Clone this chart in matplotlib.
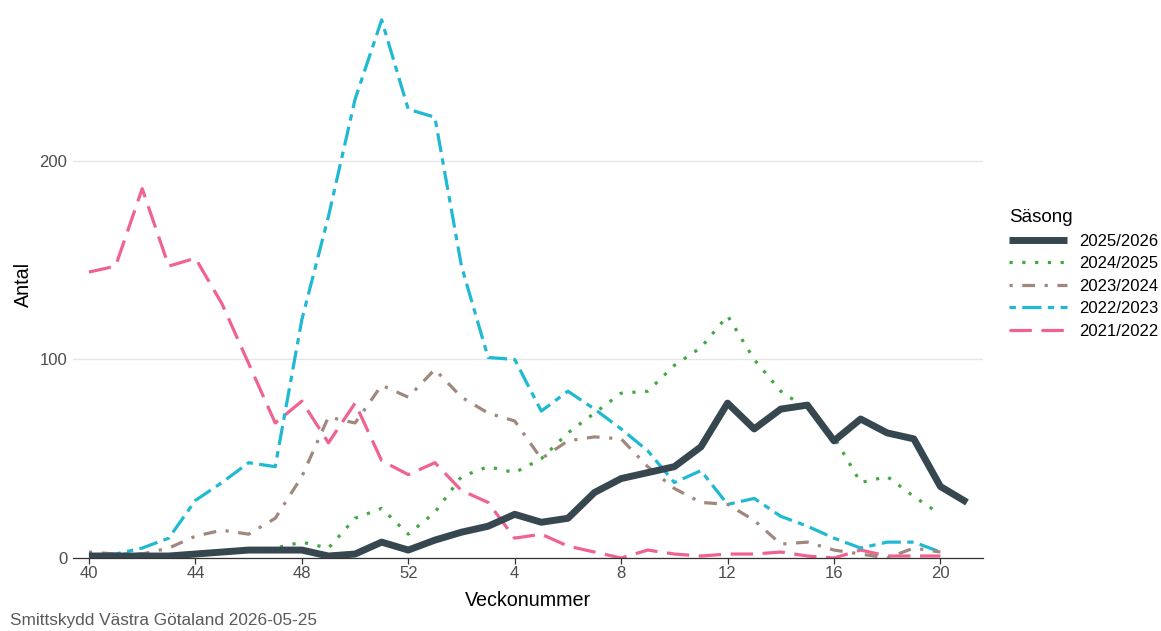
import matplotlib
matplotlib.use("Agg")
import matplotlib.pyplot as plt

plt.rcParams['font.family'] = ['Liberation Sans', 'DejaVu Sans']

# Week labels along the season (week 40 -> week 21)
weeks = list(range(40, 53)) + list(range(1, 22))
tick_weeks = [40, 44, 48, 52, 4, 8, 12, 16, 20]

# Number of cases per week and season
s2526 = [1, 1, 1, 1, 2, 3, 4, 4, 4, 1, 2, 8, 4, 9, 13, 16, 22, 18, 20, 33,
         40, 43, 46, 56, 78, 65, 75, 77, 59, 70, 63, 60, 36, 28]
s2425 = [2, 1, 2, 1, 2, 3, 4, 5, 8, 5, 20, 25, 12, 23, 41, 46, 43, 50, 63, 73,
         83, 84, 97, 106, 122, 100, 84, 75, 61, 38, 41, 31, 22]
s2324 = [3, 2, 2, 5, 11, 14, 12, 20, 41, 71, 68, 87, 81, 95, 81, 73, 69, 50, 59, 61,
         60, 46, 35, 28, 27, 19, 7, 8, 4, 2, 0, 5, 3]
s2223 = [1, 2, 5, 10, 29, 38, 48, 46, 120, 172, 231, 271, 226, 222, 147, 101, 100, 74, 84, 75,
         65, 54, 38, 44, 27, 30, 21, 16, 10, 5, 8, 8, 3]
s2122 = [144, 147, 186, 147, 151, 128, 98, 68, 79, 58, 78, 49, 42, 48, 34, 28, 10, 12, 6, 3,
         0, 4, 2, 1, 2, 2, 3, 1, 0, 4, 1, 1, 1]

seasons = ['2025/2026', '2024/2025', '2023/2024', '2022/2023', '2021/2022']
series = [s2526, s2425, s2324, s2223, s2122]
colors = ['#37474F', '#43A843', '#A1887F', '#1FB9D3', '#F06292']
widths = [5.0, 2.3, 2.3, 2.3, 2.3]
dashes = [None, (1, 3), (1, 3, 4, 3), (2, 2, 6, 2), (7, 3)]

fig = plt.figure(figsize=(11.61, 6.31), dpi=100)
ax = fig.add_axes([73 / 1161, 73 / 631, 910 / 1161, 548 / 631])

# draw older seasons first so the current one ends up on top
for name, vals, col, lw, ds in reversed(list(zip(seasons, series, colors, widths, dashes))):
    x = list(range(len(vals)))
    line, = ax.plot(x, vals, color=col, linewidth=lw, label=name,
                    solid_capstyle='butt', zorder=3 if ds is None else 2)
    if ds is not None:
        line.set_dashes(ds)

ax.set_xlim(-0.6, 33.6)
ax.set_ylim(0, 276)
ax.set_xticks([weeks.index(w) for w in tick_weeks])
ax.set_xticklabels([str(w) for w in tick_weeks])
ax.set_yticks([0, 100, 200])

ax.grid(axis='y', color='#E5E5E5', linewidth=0.9)
ax.set_axisbelow(True)
for side in ['top', 'right', 'left']:
    ax.spines[side].set_visible(False)
ax.spines['bottom'].set_color('#333333')
ax.spines['bottom'].set_linewidth(0.9)

ax.tick_params(axis='x', length=4, width=0.9, color='#333333', labelcolor='#4D4D4D',
               labelsize=12, pad=2)
ax.tick_params(axis='y', length=0, labelcolor='#4D4D4D', labelsize=12, pad=4)

ax.set_xlabel('Veckonummer', fontsize=14.2, labelpad=7)
ax.set_ylabel('Antal', fontsize=14.2, labelpad=5)

handles, labels = ax.get_legend_handles_labels()
order = [labels.index(s) for s in seasons]
leg = ax.legend([handles[i] for i in order], [labels[i] for i in order],
                title='Säsong', loc='center left', bbox_to_anchor=(1002 / 1161, 357 / 631),
                bbox_transform=fig.transFigure, frameon=False, fontsize=12,
                title_fontsize=13.5, handlelength=3.5, handletextpad=0.75,
                labelspacing=0.45, alignment='left', borderaxespad=0)

fig.text(10 / 1161, 10 / 631, 'Smittskydd Västra Götaland 2026-05-25',
         fontsize=12.4, color='#5A5A5A', va='center', ha='left')

fig.savefig('out.png', dpi=100)
